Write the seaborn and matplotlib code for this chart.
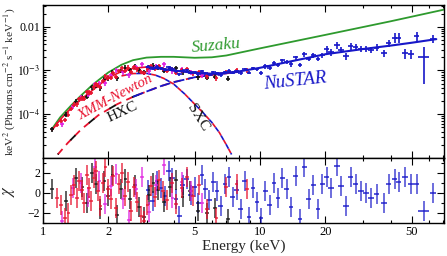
import numpy as np
import pandas as pd
import matplotlib
matplotlib.use("Agg")
import matplotlib.pyplot as plt
import seaborn as sns
from matplotlib.ticker import FixedLocator, NullFormatter

# ---- model curves, E^2 f(E) in keV^2 photons cm^-2 s^-1 keV^-1 ----
total_E = [1.1, 1.2, 1.3, 1.5, 1.7, 2.0, 2.3, 2.6, 3.0, 3.5, 4.0, 5.0, 6.0,
           7.0, 8.0, 10, 15, 20, 30, 40, 50, 65]
total_flux = [4.3e-5, 7.5e-5, 1.15e-4, 2.2e-4, 3.6e-4, 6.8e-4, 9.5e-4, 1.12e-3,
              1.2e-3, 1.1e-3, 1.0e-3, 8.8e-4, 8.4e-4, 8.8e-4, 9.5e-4, 1.15e-3,
              1.75e-3, 2.35e-3, 3.1e-3, 3.7e-3, 4.3e-3, 5.2e-3]

suzaku_E = [1.1, 1.2, 1.35, 1.5, 1.7, 2.0, 2.3, 2.6, 3.0, 3.5, 4.0, 5.0, 6.0,
            7.0, 10, 20, 40, 70]
suzaku_flux = [4.6e-5, 8.5e-5, 1.6e-4, 2.7e-4, 4.8e-4, 9.0e-4, 1.35e-3, 1.72e-3,
               1.97e-3, 2.05e-3, 2.05e-3, 1.95e-3, 2.0e-3, 2.2e-3, 3.2e-3, 6.5e-3,
               0.0133, 0.0244]

hxc_E = [1.17, 1.3, 1.5, 1.8, 2.2, 2.6, 3.0, 3.5, 4.0, 5.0, 6.0, 7.0, 8.0]
hxc_flux = [1.2e-5, 2.2e-5, 4.5e-5, 9.5e-5, 1.7e-4, 2.5e-4, 3.3e-4, 4.4e-4,
            5.4e-4, 7.0e-4, 7.9e-4, 8.6e-4, 9.3e-4]

sxc_E = [2.3, 2.6, 3.0, 3.3, 3.6, 4.0, 4.5, 5.0, 5.5, 6.0, 6.5, 7.0, 7.4]
sxc_flux = [7.5e-4, 8.5e-4, 8.6e-4, 7.8e-4, 6.6e-4, 4.9e-4, 2.9e-4, 1.7e-4,
            1.05e-4, 6.5e-5, 3.8e-5, 2.0e-5, 1.2e-5]

# ---- XMM-Newton data (red, black, magenta) ----
red_E = [1.16, 1.21, 1.26, 1.31, 1.35, 1.39, 1.43, 1.47, 1.51, 1.55, 1.59, 1.63,
         1.67, 1.71, 1.75, 1.79, 1.84, 1.89, 1.94, 1.99, 2.05, 2.11, 2.17, 2.24,
         2.31, 2.38, 2.46, 2.54, 2.63, 2.72, 2.82, 2.92, 3.03, 3.15, 3.28, 3.42,
         3.57, 3.74, 3.92, 4.12, 4.35, 4.6, 4.9, 5.25, 5.7, 6.3, 7.0, 7.8, 8.7]
red_flux = [5.8e-5, 7.0e-5, 7.5e-5, 9.8e-5, 1.33e-4, 1.66e-4, 1.70e-4, 2.2e-4,
            2.3e-4, 2.28e-4, 3.2e-4, 3.15e-4, 3.1e-4, 4.15e-4, 4.8e-4, 4.5e-4,
            4.25e-4, 5.8e-4, 7.4e-4, 6.9e-4, 6.8e-4, 8.9e-4, 7.2e-4, 9.7e-4,
            1.12e-3, 9.8e-4, 1.16e-3, 9.2e-4, 1.19e-3, 1.06e-3, 9.3e-4, 8.9e-4,
            1.07e-3, 1.24e-3, 1.1e-3, 1.25e-3, 1.1e-3, 9.8e-4, 1.1e-3, 8.8e-4,
            1.0e-3, 1.06e-3, 8.7e-4, 9.3e-4, 7.3e-4, 6.6e-4, 9.3e-4, 1.0e-3, 1.0e-3]
red_chi = [-0.5, -1.2, -2.5, -2.0, -0.2, 0.8, -0.5, 1.2, 0.3, -1.0, 1.8, 0.5,
           -0.8, 1.5, 2.2, 0.2, -1.3, 1.0, 2.6, 0.4, -0.6, 1.7, -1.5, 0.9,
           2.0, -0.3, 1.1, -1.8, 0.6, -0.9, -2.3, -2.8, -1.2, 0.7, -0.4, 1.3,
           0.2, -0.7, 1.0, -1.1, 0.5, 1.6, -0.3, 0.8, -1.6, -2.5, 0.6, 0.9, 0.4]

black_E = [1.1, 1.28, 1.42, 1.52, 1.6, 1.68, 1.76, 1.84, 1.92, 2.0, 2.09, 2.19,
           2.29, 2.4, 2.52, 2.65, 2.78, 2.92, 3.07, 3.23, 3.4, 3.6, 3.85, 4.1,
           4.4, 4.75, 5.2, 5.7, 6.2, 7.1]
black_flux = [4.5e-5, 9.8e-5, 1.93e-4, 2.45e-4, 2.5e-4, 4.1e-4, 4.5e-4, 4.0e-4,
              6.3e-4, 6.6e-4, 8.9e-4, 6.6e-4, 9.8e-4, 1.16e-3, 1.02e-3, 1.22e-3,
              1.0e-3, 9.0e-4, 1.17e-3, 1.28e-3, 1.15e-3, 9.8e-4, 1.09e-3, 1.12e-3,
              9.1e-4, 9.3e-4, 7.1e-4, 6.8e-4, 7.2e-4, 6.5e-4]
black_chi = [0.4, -0.8, 1.5, 0.6, -1.0, 2.0, 0.9, -1.6, 1.2, -0.3, 1.8, -2.2,
             0.4, 1.4, -0.6, 0.8, -1.4, -2.4, -0.2, 1.0, 0.3, -0.9, 0.6, 1.3,
             -0.4, 0.2, -1.8, -2.0, -1.5, -2.6]

magenta_E = [1.22, 1.37, 1.5, 1.62, 1.73, 1.82, 1.93, 2.05, 2.18, 2.33, 2.5,
             2.68, 2.87, 3.08, 3.32, 3.6, 3.95, 4.35, 4.8, 5.4]
magenta_flux = [5.9e-5, 1.52e-4, 2.4e-4, 2.8e-4, 4.8e-4, 5.2e-4, 5.2e-4, 7.7e-4,
                1.0e-3, 9.1e-4, 7.9e-4, 1.19e-3, 1.37e-3, 9.6e-4, 1.22e-3,
                1.38e-3, 9.6e-4, 1.07e-3, 9.2e-4, 7.7e-4]
magenta_chi = [-2.8, 0.5, 1.0, -0.4, 2.6, 1.2, -1.1, 0.7, 1.9, -0.6, -2.7, 0.4,
               1.6, -1.9, 0.8, 2.8, -0.5, 1.1, 0.2, -1.0]

# ---- NuSTAR data (blue) ----
blue_E = [3.05, 3.2, 3.35, 3.5, 3.65, 3.8, 3.95, 4.1, 4.25, 4.4, 4.6, 4.8, 5.0,
          5.2, 5.4, 5.6, 5.85, 6.1, 6.35, 6.6, 6.9, 7.2, 7.5, 7.8, 8.15, 8.5,
          8.9, 9.3, 9.7, 10.1, 10.6, 11.1, 11.6, 12.1, 12.7, 13.3, 13.9, 14.6,
          15.3, 16.0, 16.8, 17.6, 18.5, 19.4, 20.3, 21.2, 22.6, 23.7, 24.9,
          26.2, 27.6, 29.2, 30.8, 32.5, 34.5, 37.2, 39.2, 41.8, 43.6, 46.5,
          49.6, 52.7, 56.9, 62.9]
blue_flux = [1.21e-3, 1.10e-3, 1.21e-3, 1.13e-3, 1.05e-3, 1.18e-3, 1.10e-3,
             9.5e-4, 8.3e-4, 9.9e-4, 1.0e-3, 8.9e-4, 9.1e-4, 8.2e-4, 9.5e-4,
             8.7e-4, 8.1e-4, 9.0e-4, 8.65e-4, 7.9e-4, 9.2e-4, 9.75e-4, 8.9e-4,
             9.5e-4, 8.7e-4, 1.07e-3, 8.9e-4, 1.11e-3, 1.06e-3, 8.7e-4, 1.24e-3,
             1.13e-3, 1.47e-3, 1.33e-3, 1.69e-3, 1.6e-3, 1.38e-3, 1.98e-3,
             1.32e-3, 2.34e-3, 1.84e-3, 2.22e-3, 1.82e-3, 2.21e-3, 3.07e-3,
             2.67e-3, 3.8e-3, 2.99e-3, 2.1e-3, 3.65e-3, 3.39e-3, 3.15e-3,
             3.15e-3, 2.98e-3, 3.33e-3, 2.5e-3, 4.24e-3, 5.6e-3, 5.6e-3,
             2.5e-3, 2.4e-3, 6.2e-3, 2.0e-3, 5.3e-3]
blue_rel = [0.08] * 29 + [0.11] * 15 + [0.18] * 13 + [0.25] * 5 + [0.75, 0.2]
blue_chi = [0.3, -0.8, 1.2, 0.5, -0.3, 2.2, 1.5, -0.6, -2.3, 0.8, 1.4, -0.2,
            0.6, -1.0, 1.8, 0.4, -0.7, 1.1, 0.2, -1.3, 0.9, 1.6, -0.4, 0.3,
            -1.6, 1.2, -2.4, 0.5, -0.9, -2.5, 0.2, -1.2, 1.0, -0.5, 1.5, 0.4,
            -1.4, 1.7, -2.6, 2.6, -0.6, 0.8, -1.6, 0.9, 1.6, 0.5, 2.7, 0.7,
            -1.3, 1.6, 0.9, 0.2, 0.0, -0.5, -0.1, -1.0, 0.9, 1.4, 1.1, 1.6,
            0.9, 0.9, -1.8, 0.0]
blue_hw = [0.025] * 44 + [0.03] * 18 + [0.055, 0.03]

x_ticks = [1, 2, 5, 10, 20, 50]
y_ticks = [1e-4, 1e-3, 1e-2]
y_ticklabels = [r"$10^{-4}$", r"$10^{-3}$", "0.01"]
chi_ticks = [2, 0, -2]
chi_ticklabels = ["2", "0", "\u22122"]

RED = "#e8112d"
BLACK = "#111111"
MAGENTA = "#e020e0"
BLUE = "#1717c8"
GREEN = "#2e9a2e"

sns.set_theme(style="ticks")
plt.rcParams["font.family"] = ["Liberation Serif", "DejaVu Serif"]
plt.rcParams["mathtext.fontset"] = "stix"


def line(ax, E, F, color, lw=1.2, ls="-", emin=None, emax=None):
    df = pd.DataFrame({"E": E, "F": F})
    if emin is not None:
        df = df[df.E >= emin]
    if emax is not None:
        df = df[df.E <= emax]
    sns.lineplot(data=df, x="E", y="F", ax=ax, color=color, lw=lw,
                 linestyle=ls, sort=False, legend=False)


def points(ax, E, F, color, rel, hw=0.02, lw=1.2, alpha=1.0):
    E = np.asarray(E)
    F = np.asarray(F)
    ax.errorbar(E, F, xerr=E * np.asarray(hw), yerr=F * np.asarray(rel),
                fmt="none", ecolor=color, elinewidth=lw, capsize=0, alpha=alpha)


fig = plt.figure(figsize=(4.47, 2.56), dpi=100)
ax = fig.add_axes([0.0962, 0.383, 0.897, 0.598])
ax2 = fig.add_axes([0.0962, 0.129, 0.897, 0.254], sharex=ax)

ax.set_xscale("log")
ax.set_yscale("log")

# models
line(ax, suzaku_E, suzaku_flux, GREEN, lw=1.3)
line(ax, hxc_E, hxc_flux, RED, lw=1.3, ls=(0, (4, 3)))
line(ax, hxc_E, hxc_flux, BLACK, lw=1.3, ls=(3.5, (4, 10)), emax=3.0)
line(ax, hxc_E, hxc_flux, BLUE, lw=1.3, ls=(0, (6, 2)), emin=2.6)
line(ax, sxc_E, sxc_flux, RED, lw=1.2, ls=(0, (3, 3)))
line(ax, sxc_E, sxc_flux, BLUE, lw=1.2, ls=(3, (3, 3)))
line(ax, total_E, total_flux, RED, lw=1.2, emax=8)

# data
points(ax, black_E, black_flux, BLACK, 0.13)
points(ax, magenta_E, magenta_flux, MAGENTA, 0.13)
points(ax, red_E, red_flux, RED, 0.12)
line(ax, total_E, total_flux, BLUE, lw=1.5, emin=3)
points(ax, blue_E, blue_flux, BLUE, blue_rel, hw=blue_hw)

ax.set_xlim(1, 70.5)
ax.set_ylim(1e-5, 0.0316)
ax.set_yticks(y_ticks)
ax.set_yticklabels(y_ticklabels)
ax.set_ylabel(r"keV$^2$ (Photons cm$^{-2}$ s$^{-1}$ keV$^{-1}$)", fontsize=8.2)
ax.set_xlabel("")
ax.tick_params(axis="x", labelbottom=False)

ax.text(6.3, 3.7e-3, "Suzaku", color=GREEN, fontsize=12.5, style="italic",
        rotation=5, ha="center", va="center")
ax.text(14.5, 5.6e-4, "NuSTAR", color=BLUE, fontsize=13.5, style="italic",
        rotation=6, ha="center", va="center")
ax.text(2.15, 2.4e-4, "XMM-Newton", color=RED, fontsize=10.5, style="italic",
        rotation=28, ha="center", va="center")
ax.text(2.33, 1.1e-4, "HXC", color=BLACK, fontsize=11,
        rotation=25, ha="center", va="center")
ax.text(5.15, 8.3e-5, "SXC", color=BLACK, fontsize=11,
        rotation=-58, ha="center", va="center")

# residuals
points(ax2, blue_E, blue_chi, BLUE, 0, hw=blue_hw, alpha=0.85)
ax2.errorbar(blue_E, blue_chi, yerr=1, fmt="none", ecolor=BLUE,
             elinewidth=1.1, capsize=0, alpha=0.8)
for E, c, col in [(black_E, black_chi, BLACK), (magenta_E, magenta_chi, MAGENTA),
                  (red_E, red_chi, RED)]:
    E = np.asarray(E)
    ax2.errorbar(E, c, xerr=E * 0.02, yerr=1, fmt="none", ecolor=col,
                 elinewidth=1.1, capsize=0, alpha=0.85)

ax2.set_ylim(-3.0, 3.5)
ax2.set_yticks(chi_ticks)
ax2.set_yticklabels(chi_ticklabels)
ax2.yaxis.set_minor_locator(FixedLocator([-3, -1, 1, 3]))
ax2.set_ylabel(r"$\chi$", fontsize=12)
ax2.set_xlabel("Energy (keV)", fontsize=11, labelpad=1)
ax2.set_xticks(x_ticks)
ax2.set_xticklabels([str(t) for t in x_ticks])
ax2.xaxis.set_minor_locator(FixedLocator([3, 4, 6, 7, 8, 9, 30, 40, 60, 70]))
ax2.xaxis.set_minor_formatter(NullFormatter())
ax2.set_xlim(1, 70.5)

for a in (ax, ax2):
    a.tick_params(which="both", direction="in", top=True, right=True,
                  labelsize=9, width=0.8, colors="black", pad=2)
    a.tick_params(axis="y", labelsize=8.5)
    a.tick_params(which="major", length=5)
    a.tick_params(which="minor", length=2.5)
    for s in a.spines.values():
        s.set_linewidth(1.0)
        s.set_color("black")
    a.yaxis.set_label_coords(-0.064, 0.5)

fig.savefig("out.png", dpi=100)
